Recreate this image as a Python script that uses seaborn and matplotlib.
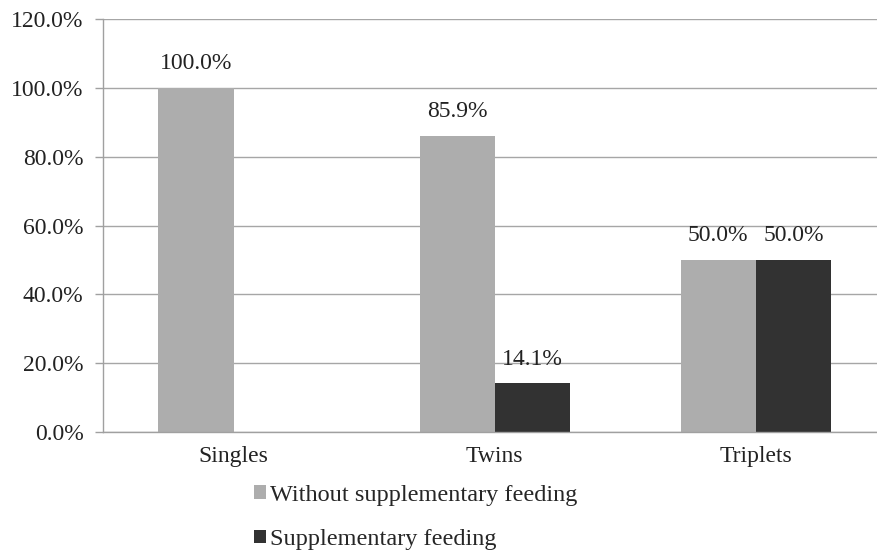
import matplotlib
matplotlib.use("Agg")
import matplotlib.pyplot as plt
from matplotlib.patches import Patch
import seaborn as sns
import pandas as pd

categories = ["Singles", "Twins", "Triplets"]
series_names = ["Without supplementary feeding", "Supplementary feeding"]
without_feeding = [100.0, 85.9, 50.0]
with_feeding = [0.0, 14.1, 50.0]
y_ticks = [0, 20, 40, 60, 80, 100, 120]
colors = ["#ADADAD", "#323232"]

df = pd.DataFrame({
    "group": categories * 2,
    "series": [series_names[0]] * 3 + [series_names[1]] * 3,
    "value": without_feeding + with_feeding,
})

sns.set_theme(style="white")
plt.rcParams["font.family"] = ["Liberation Serif", "DejaVu Serif"]

FS = 17
W, H = 877, 559
fig = plt.figure(figsize=(W / 100, H / 100), dpi=100)
left, right, top, bottom = 103, 877, 19, 432
ax = fig.add_axes([left / W, 1 - bottom / H, (right - left) / W, (bottom - top) / H])

sns.barplot(data=df, x="group", y="value", hue="series", order=categories,
            hue_order=series_names, palette=colors, width=0.575, gap=0,
            saturation=1, ax=ax, legend=False, edgecolor="none", linewidth=0)

ax.set_ylim(0, 120)
ax.set_xlim(-0.5, 2.464)
ax.set_yticks(y_ticks)
ax.set_yticklabels([f"{t:.1f}%" for t in y_ticks], fontsize=FS, color="#222222")
ax.yaxis.grid(True, color="#A6A6A6", linewidth=1)
ax.set_axisbelow(True)

# category labels centred, tick marks on the category boundaries
ax.set_xticks(range(len(categories)))
ax.set_xticklabels(categories, fontsize=FS, color="#222222")
ax.tick_params(axis="x", which="major", length=0, pad=10)
ax.set_xticks([-0.5, 0.5, 1.5], minor=True)
ax.tick_params(axis="x", which="minor", length=6, color="#A0A0A0", width=1)
ax.tick_params(axis="y", length=6, color="#A0A0A0", width=1, pad=8, left=True)
ax.set_xlabel("")
ax.set_ylabel("")

for s in ["top", "right"]:
    ax.spines[s].set_visible(False)
for s in ["left", "bottom"]:
    ax.spines[s].set_color("#A0A0A0")
    ax.spines[s].set_linewidth(1)

for container in ax.containers:
    labels = [f"{b.get_height():.1f}%" if b.get_height() > 0 else "" for b in container]
    ax.bar_label(container, labels=labels, fontsize=FS, color="#222222", padding=10)

handles = [Patch(facecolor=c, edgecolor="none") for c in colors]
fig.legend(handles, series_names, loc="upper left", bbox_to_anchor=(254 / W, 1 - 485 / H),
           frameon=False, fontsize=17.5, handlelength=0.5, handleheight=0.5,
           handletextpad=0.15, labelspacing=0.95, borderaxespad=0, borderpad=0)

fig.savefig("out.png", dpi=100, facecolor="white")
